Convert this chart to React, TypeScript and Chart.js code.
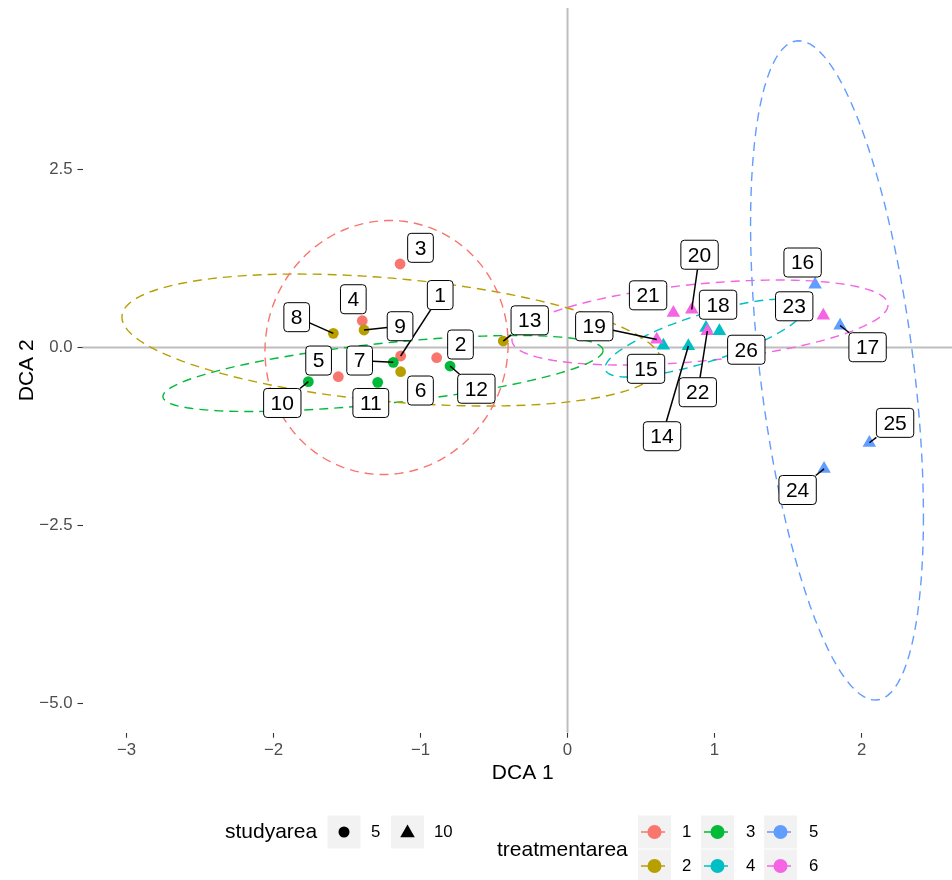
import React, { useEffect, useRef } from 'react';
import { Chart, registerables } from 'chart.js';

Chart.register(...registerables);

// ---------------- data ----------------
const pointIds = ['1','2','3','4','5','6','7','8','9','10','11','12','13','14','15','16','17','18','19','20','21','22','23','24','25','26'];
const dca1 = [-1.135,-0.890,-1.139,-1.396,-1.559,-1.135,-1.185,-1.593,-1.384,-1.763,-1.291,-0.799,-0.437,0.822,0.652,1.684,1.854,0.942,0.607,0.845,0.720,0.951,1.740,1.745,2.053,1.033];
const dca2 = [-0.119,-0.143,1.173,0.376,-0.410,-0.340,-0.208,0.199,0.246,-0.480,-0.489,-0.260,0.091,0.021,0.028,0.885,0.309,0.277,0.112,0.534,0.487,0.232,0.449,-1.704,-1.338,0.232];
const treatmentArea = [1,1,1,1,1,2,3,2,2,3,3,3,2,4,4,5,5,4,6,6,6,6,6,5,5,4];
const studyArea = [5,5,5,5,5,5,5,5,5,5,5,5,5,10,10,10,10,10,10,10,10,10,10,10,10,10];

// repelled label positions (data units)
const labelDca1 = [-0.866,-0.728,-1.0,-1.457,-1.693,-1.0,-1.414,-1.842,-1.139,-1.940,-1.338,-0.620,-0.257,0.643,0.534,1.599,2.041,1.024,0.182,0.898,0.548,0.886,1.542,1.565,2.228,1.216];
const labelDca2 = [0.737,0.042,1.400,0.678,-0.183,-0.604,-0.183,0.426,0.299,-0.779,-0.779,-0.579,0.382,-1.246,-0.299,1.194,0.004,0.601,0.298,1.303,0.733,-0.628,0.579,-2.001,-1.058,-0.031];
const leaderLabels = ['1','7','8','9','10','12','13','14','17','19','20','22','24','25'];

const treatmentLevels = ['1','2','3','4','5','6'];
const treatmentColors = ['#F8766D','#B79F00','#00BA38','#00BFC4','#619CFF','#F564E3'];
const studyAreaLevels = ['5','10'];

// 95% ellipses per treatment area (centre, half-width, half-height, y-offset at rightmost point)
const ellipseCx = [-1.231,-1.194,-1.255,0.935,1.833,0.901];
const ellipseCy = [0.0,0.105,-0.365,0.133,-0.322,0.351];
const ellipseRx = [0.827,1.837,1.497,0.680,0.588,1.279];
const ellipseRy = [1.784,0.927,0.534,0.548,4.63,0.597];
const ellipseLy = [0.05,-0.323,0.323,0.421,-2.05,0.246];

const xTickValues = [-3,-2,-1,0,1,2];
const xTickLabels = ['\u22123','\u22122','\u22121','0','1','2'];
const yTickValues = [-5,-2.5,0,2.5];
const yTickLabels = ['\u22125.0','\u22122.5','0.0','2.5'];

const xTitle = 'DCA 1';
const yTitle = 'DCA 2';
const studyAreaTitle = 'studyarea';
const treatmentTitle = 'treatmentarea';

// ---------------- styling ----------------
const FONT = "'Liberation Sans', Arial, Helvetica, sans-serif";
const TITLE_SIZE = 21;
const TICK_SIZE = 16.8;
const LABEL_SIZE = 21;
const DASH = [9, 6];

function ellipsePoints(k: number) {
  const phi = Math.acos(ellipseLy[k] / ellipseRy[k]);
  const pts: { x: number; y: number }[] = [];
  const n = 120;
  for (let i = 0; i <= n; i++) {
    const t = (2 * Math.PI * i) / n;
    pts.push({ x: ellipseCx[k] + ellipseRx[k] * Math.cos(t), y: ellipseCy[k] + ellipseRy[k] * Math.cos(t + phi) });
  }
  return pts;
}

const refLinesPlugin = {
  id: 'refLines',
  beforeDatasetsDraw(chart: any) {
    const { ctx, chartArea, scales } = chart;
    const x0 = scales.x.getPixelForValue(0);
    const y0 = scales.y.getPixelForValue(0);
    ctx.save();
    ctx.strokeStyle = '#BEBEBE';
    ctx.lineWidth = 2;
    ctx.beginPath();
    ctx.moveTo(x0, chartArea.top);
    ctx.lineTo(x0, chartArea.bottom);
    ctx.moveTo(chartArea.left, y0);
    ctx.lineTo(chartArea.right, y0);
    ctx.stroke();
    ctx.restore();
  },
};

function roundRect(ctx: CanvasRenderingContext2D, x: number, y: number, w: number, h: number, r: number) {
  ctx.beginPath();
  ctx.moveTo(x + r, y);
  ctx.lineTo(x + w - r, y);
  ctx.arcTo(x + w, y, x + w, y + r, r);
  ctx.lineTo(x + w, y + h - r);
  ctx.arcTo(x + w, y + h, x + w - r, y + h, r);
  ctx.lineTo(x + r, y + h);
  ctx.arcTo(x, y + h, x, y + h - r, r);
  ctx.lineTo(x, y + r);
  ctx.arcTo(x, y, x + r, y, r);
  ctx.closePath();
}

const labelsPlugin = {
  id: 'repelLabels',
  afterDatasetsDraw(chart: any) {
    const { ctx, scales } = chart;
    ctx.save();
    ctx.font = `${LABEL_SIZE}px ${FONT}`;
    const padX = 7;
    const boxH = 29;
    pointIds.forEach((id, i) => {
      const px = scales.x.getPixelForValue(dca1[i]);
      const py = scales.y.getPixelForValue(dca2[i]);
      const lx = scales.x.getPixelForValue(labelDca1[i]);
      const ly = scales.y.getPixelForValue(labelDca2[i]);
      const w = ctx.measureText(id).width + 2 * padX;
      const hw = w / 2;
      const hh = boxH / 2;
      if (leaderLabels.includes(id)) {
        const dx = px - lx;
        const dy = py - ly;
        const s = Math.min(dx !== 0 ? hw / Math.abs(dx) : Infinity, dy !== 0 ? hh / Math.abs(dy) : Infinity);
        const ex = lx + dx * Math.min(s, 1);
        const ey = ly + dy * Math.min(s, 1);
        ctx.strokeStyle = '#000';
        ctx.lineWidth = 1.5;
        ctx.beginPath();
        ctx.moveTo(px, py);
        ctx.lineTo(ex, ey);
        ctx.stroke();
      }
      roundRect(ctx, lx - hw, ly - hh, w, boxH, 3.5);
      ctx.fillStyle = '#FFFFFF';
      ctx.fill();
      ctx.strokeStyle = '#000';
      ctx.lineWidth = 1;
      ctx.stroke();
      ctx.fillStyle = '#000';
      ctx.textAlign = 'center';
      ctx.textBaseline = 'middle';
      ctx.fillText(id, lx, ly + 1);
    });
    ctx.restore();
  },
};

const legendPlugin = {
  id: 'ggLegend',
  afterDraw(chart: any) {
    const { ctx } = chart;
    ctx.save();
    const keyW = 33;
    const keyH = 33;
    const row1 = 832;
    const row2 = 866;
    // studyarea
    ctx.fillStyle = '#000';
    ctx.font = `${TITLE_SIZE}px ${FONT}`;
    ctx.textAlign = 'left';
    ctx.textBaseline = 'middle';
    ctx.fillText(studyAreaTitle, 225, row1);
    const saKeyX = [344, 407.5];
    const saTextX = [371, 434];
    studyAreaLevels.forEach((lvl, j) => {
      ctx.fillStyle = '#F2F2F2';
      ctx.fillRect(saKeyX[j] - keyW / 2, row1 - keyH / 2, keyW, keyH);
      ctx.fillStyle = '#000';
      ctx.beginPath();
      if (lvl === '5') {
        ctx.arc(saKeyX[j], row1, 5.5, 0, Math.PI * 2);
      } else {
        const r = 8.4;
        ctx.moveTo(saKeyX[j], row1 - r + 1);
        ctx.lineTo(saKeyX[j] + r * 0.866, row1 + r / 2 + 1);
        ctx.lineTo(saKeyX[j] - r * 0.866, row1 + r / 2 + 1);
        ctx.closePath();
      }
      ctx.fill();
      ctx.font = `${TICK_SIZE}px ${FONT}`;
      ctx.fillText(lvl, saTextX[j], row1);
    });
    // treatmentarea
    ctx.font = `${TITLE_SIZE}px ${FONT}`;
    ctx.fillStyle = '#000';
    ctx.fillText(treatmentTitle, 497, (row1 + row2) / 2 + 1);
    const colX = [654.5, 717.5, 780.5];
    const colTextX = [682, 746, 809];
    treatmentLevels.forEach((lvl, j) => {
      const c = Math.floor(j / 2);
      const r = j % 2;
      const cx = colX[c];
      const cy = r === 0 ? row1 : row2;
      ctx.fillStyle = '#F2F2F2';
      ctx.fillRect(cx - keyW / 2, cy - keyH / 2, keyW, keyH);
      ctx.strokeStyle = treatmentColors[j];
      ctx.lineWidth = 1.4;
      ctx.setLineDash(DASH);
      ctx.beginPath();
      ctx.moveTo(cx - keyW / 2 + 3, cy);
      ctx.lineTo(cx + keyW / 2, cy);
      ctx.stroke();
      ctx.setLineDash([]);
      ctx.fillStyle = treatmentColors[j];
      ctx.beginPath();
      ctx.arc(cx, cy, 7, 0, Math.PI * 2);
      ctx.fill();
      ctx.fillStyle = '#000';
      ctx.font = `${TICK_SIZE}px ${FONT}`;
      ctx.fillText(lvl, colTextX[c], cy);
    });
    ctx.restore();
  },
};

export default function App() {
  const canvasRef = useRef<HTMLCanvasElement | null>(null);

  useEffect(() => {
    const canvas = canvasRef.current;
    if (!canvas) return;
    const ellipseDatasets = treatmentLevels.map((lvl, k) => ({
      label: `ellipse ${lvl}`,
      data: ellipsePoints(k),
      showLine: true,
      borderColor: treatmentColors[k],
      borderWidth: 1.4,
      borderDash: DASH,
      pointRadius: 0,
      fill: false,
      tension: 0,
    }));
    const pointDataset = {
      label: 'sites',
      data: dca1.map((x, i) => ({ x, y: dca2[i] })),
      showLine: false,
      pointStyle: studyArea.map((s) => (s === 5 ? 'circle' : 'triangle')),
      pointRadius: studyArea.map((s) => (s === 5 ? 5.4 : 7.8)),
      pointBackgroundColor: treatmentArea.map((t) => treatmentColors[t - 1]),
      pointBorderColor: treatmentArea.map((t) => treatmentColors[t - 1]),
      pointBorderWidth: 0,
    };

    const chart = new Chart(canvas, {
      type: 'scatter',
      data: { datasets: [...ellipseDatasets, pointDataset] as any },
      options: {
        responsive: false,
        animation: false,
        layout: { padding: { top: 7.9, right: 10, left: 0, bottom: 0 } },
        plugins: { legend: { display: false }, tooltip: { enabled: false } },
        scales: {
          x: {
            type: 'linear',
            position: 'bottom',
            min: -3.299,
            max: 2.69,
            afterBuildTicks: (s: any) => {
              s.ticks = xTickValues.map((v) => ({ value: v }));
            },
            afterFit: (s: any) => {
              s.height = 147.3;
              s.paddingLeft = 0;
              s.paddingRight = 0;
            },
            ticks: {
              autoSkip: false,
              maxRotation: 0,
              padding: 3,
              color: '#4D4D4D',
              font: { size: TICK_SIZE, family: FONT },
              callback: (v: any) => xTickLabels[xTickValues.indexOf(Number(v))],
            },
            grid: { display: true, drawOnChartArea: false, drawTicks: true, tickLength: 5, tickColor: '#333333', tickWidth: 1.1 },
            border: { display: false },
            title: { display: true, text: xTitle, color: '#000', font: { size: TITLE_SIZE, family: FONT }, padding: { top: 0, bottom: 94.4 } },
          },
          y: {
            type: 'linear',
            position: 'left',
            min: -5.41,
            max: 4.77,
            afterBuildTicks: (s: any) => {
              s.ticks = yTickValues.map((v) => ({ value: v }));
            },
            afterFit: (s: any) => {
              s.width = 82.5;
              s.paddingTop = 0;
              s.paddingBottom = 0;
            },
            ticks: {
              autoSkip: false,
              padding: 5,
              color: '#4D4D4D',
              font: { size: TICK_SIZE, family: FONT },
              callback: (v: any) => yTickLabels[yTickValues.indexOf(Number(v))],
            },
            grid: { display: true, drawOnChartArea: false, drawTicks: true, tickLength: 5, tickColor: '#333333', tickWidth: 1.1 },
            border: { display: false },
            title: { display: true, text: yTitle, color: '#000', font: { size: TITLE_SIZE, family: FONT }, padding: { top: 14.4, bottom: 0 } },
          },
        },
      },
      plugins: [refLinesPlugin, labelsPlugin, legendPlugin],
    });
    return () => chart.destroy();
  }, []);

  return (
    <div style={{ position: 'fixed', left: 0, top: 0, width: 952, height: 880, overflow: 'hidden', background: '#FFFFFF' }}>
      <canvas ref={canvasRef} width={973} height={880} style={{ width: 973, height: 880, display: 'block' }} />
    </div>
  );
}
